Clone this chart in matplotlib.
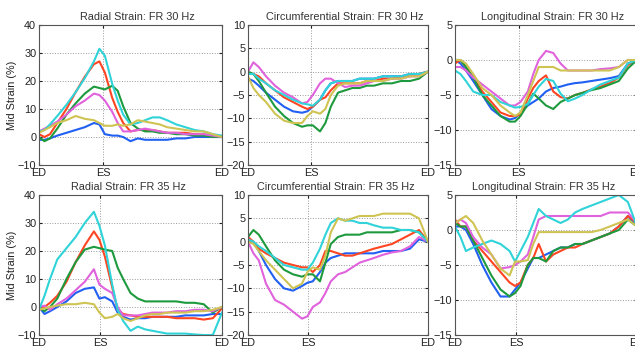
import numpy as np
import matplotlib
matplotlib.use("Agg")
import matplotlib.pyplot as plt

# sample positions along the cycle (0 = ED, 1 = next ED)
X = [0, .03, .06, .1, .15, .2, .25, .3, .33, .36, .4, .43, .46,
     .5, .54, .58, .62, .66, .7, .75, .8, .85, .9, .95, 1.0]
ES_30 = 0.35
ES_35 = 0.335

# ---- Radial strain, FR 30 Hz
rad30_blue = [-1, -1, -0.5, 0.5, 1.5, 2.5, 3.5, 5, 4.5, 1, 0.5, 0.5, 0,
              -1.5, -0.5, -1, -1, -1, -1, -0.5, -0.5, 0, 0, 0, 0]
rad30_red = [1, 0, 1, 5, 10, 16, 21.5, 26, 27, 23, 14, 9, 5,
             2, 2.5, 2.5, 2.5, 2, 1.5, 1.5, 1.5, 1, 1, 0.5, 0]
rad30_green = [0, -1.5, -0.5, 3, 8, 12, 15.5, 18, 17.5, 17, 18.3, 16.5, 11,
               5, 3, 2, 2, 1.5, 1.5, 1, 1, 0.5, 0.5, 0, 0]
rad30_magenta = [2, 3, 4, 5.5, 8, 11, 13, 15.5, 15, 13, 9, 5, 2,
                 2, 2.5, 3, 2.5, 2, 1.5, 1.5, 1, 1, 1, 0.5, 0]
rad30_cyan = [2, 2.5, 4.5, 7.5, 11.5, 16, 21, 27, 31.5, 29, 19, 13, 8,
              4.5, 5, 6, 7, 7, 6, 4.5, 3.5, 2.5, 2, 1, 0.5]
rad30_yellow = [1.5, 2.5, 3.5, 5, 6, 7.5, 6.5, 6, 5, 4, 4, 4.5, 4,
                4.5, 6, 5.5, 5, 4.5, 3.5, 3, 2.5, 2, 2, 1, 0]

# ---- Circumferential strain, FR 30 Hz
circ30_blue = [-1.5, -2, -3, -4.5, -6, -7.5, -8.5, -8.8, -8.5, -7.5, -6, -4, -2.5,
               -2, -2, -2, -1.5, -1.5, -1.5, -1, -1, -1, -0.5, -0.5, 0]
circ30_red = [-0.5, -0.5, -1, -2.5, -4, -5.5, -6.5, -7.5, -8, -7.5, -6, -5.5, -4,
              -2.5, -2.5, -2.5, -2.5, -2, -2, -1.5, -1.5, -1, -1, -0.5, 0]
circ30_green = [0, -0.5, -2, -4.5, -7.5, -9.5, -11, -11.8, -11.5, -11.5, -12.8, -11, -7.5,
                -4.5, -4, -3.5, -3.5, -3, -3, -2.5, -2.5, -2, -2, -1.5, 0]
circ30_magenta = [0, 2, 1, -1, -3, -4.5, -5.5, -6.8, -6.5, -5, -2.5, -1.5, -1.5,
                  -2.5, -3.3, -3, -3, -2.5, -2, -2, -1.5, -1.5, -1, -1, 0]
circ30_cyan = [-0.5, -0.5, -1.5, -2.5, -4, -5, -6, -6.8, -7, -7.3, -6, -4, -2.5,
               -2, -2, -2, -1.5, -1.5, -1.5, -1, -1, -1, -0.5, -0.5, 0]
circ30_yellow = [-1, -3.5, -5, -6.5, -9, -10.5, -11, -11, -9.5, -8.5, -9, -8, -5,
                 -3, -2.5, -2.5, -2.5, -2, -2, -2, -1.5, -1.5, -1, -1, 0]

# ---- Longitudinal strain, FR 30 Hz
long30_blue = [0, -0.5, -1.5, -3, -5, -7, -8, -8.5, -8.3, -7.5, -6.5, -6, -5.5,
               -4.5, -4, -3.8, -3.5, -3.3, -3.2, -3, -2.8, -2.6, -2.3, -0.5, 0]
long30_red = [-0.5, 0, -1, -2.5, -4.5, -6, -7.5, -8, -8, -7.8, -5.5, -4, -3,
              -2.2, -4.5, -5.3, -5.5, -5, -4.7, -4.2, -3.8, -3.3, -2.5, -0.7, 0]
long30_green = [0, 0, -1, -2.5, -5, -6.5, -8, -8.8, -8.8, -8, -6.3, -4.8, -5.5,
                -6.5, -7, -6, -5.5, -5, -4.7, -4.3, -4, -3.5, -3, -1.2, 0]
long30_magenta = [-1, -1, -1.5, -2.5, -3.5, -4.5, -5.5, -6.5, -6.5, -6, -4.5, -2, 0,
                  1.3, 1, -0.5, -1.5, -1.5, -1.5, -1.5, -1.3, -1.2, -1, 0, 0]
long30_cyan = [-1.5, -2, -3, -4.5, -5, -5, -6, -6.5, -6.8, -6.7, -6.3, -5, -3.8,
               -2.7, -3, -4.8, -5.9, -5.5, -5, -4.2, -3.5, -3, -2.5, -0.5, 0]
long30_yellow = [0, 0, -0.5, -2, -4, -5, -6.5, -7.5, -8, -7.5, -5, -3, -1,
                 -1, -1, -1.5, -1.5, -1.5, -1.5, -1.5, -1.5, -1.5, -1, 0, 0]

# ---- Radial strain, FR 35 Hz
rad35_blue = [0, -2.5, -1.5, 0, 2, 5, 6.5, 7, 3, 3.5, 2, -2, -3.5,
              -4.5, -4, -4, -3.5, -3.5, -3.5, -3.5, -3, -3, -3, -2.5, -2.5]
rad35_red = [-1, 0, 1.5, 4, 9, 16, 22, 27, 24, 18, 7, -1, -2.5,
             -3, -3.5, -3.5, -3.5, -3.5, -3.5, -4, -4, -4, -4.5, -4, -0.5]
rad35_green = [0, -1.5, 0, 3, 10, 16, 20.5, 21.5, 21, 20.5, 20, 14, 10,
               5, 3, 2, 2, 2, 2, 2, 1.5, 1.5, 1, -2, 0]
rad35_magenta = [0, 0.5, -1, 1, 3, 6, 9, 13.5, 8, 6.5, 5, 0, -3,
                 -3, -3, -2.5, -2, -2, -2, -1.5, -1.5, -1, -1, -1.5, 0]
rad35_cyan = [-1, 4, 10, 17, 21, 25, 30, 34, 29, 22, 8, -1, -5,
              -8.5, -7, -8, -8.5, -9, -9.5, -9.5, -9.5, -9.8, -10, -10, -2]
rad35_yellow = [-1, -0.5, 0, 0.5, 1, 1, 1.5, 1, -2, -4, -3.5, -2.5, -4,
                -5, -4, -3, -2.5, -2.5, -2, -2, -2, -1.5, -1.5, -1, 0]

# ---- Circumferential strain, FR 35 Hz
circ35_blue = [0, 0, -2, -5, -8, -10, -10.5, -9.5, -8.8, -8.5, -6.5, -4.5, -3.5,
               -3, -2.5, -2.5, -2.5, -2.5, -2.5, -2, -2, -2, -1.5, 0.5, 0]
circ35_red = [1, 0, -1.5, -2.5, -3.5, -4.5, -5, -5.5, -5.5, -6.5, -5, -2, -2,
              -2.5, -3, -3, -2.5, -2, -1.5, -1, -0.5, 0.5, 1.5, 2.5, 0]
circ35_green = [1, 2.5, 1.5, -1, -4, -6, -7, -7.5, -7, -7, -8.5, -4.5, -0.5,
                1, 1.5, 1.5, 1.5, 2, 2, 2, 2, 2.5, 2.5, 2, 0]
circ35_magenta = [0, -2.5, -4, -9, -12.5, -13.5, -15, -16.5, -16, -14, -13, -11, -8.5,
                  -7, -6.5, -5.5, -4.5, -4, -3.5, -2.8, -2.3, -2, -1, 1, 0]
circ35_cyan = [0.5, 0, -1, -2, -3.5, -5, -5.5, -6, -6, -4.5, -1.5, 1.5, 4,
               5, 4.5, 4.5, 4, 4, 3.5, 3, 3, 2.5, 2.5, 2, 0]
circ35_yellow = [0, -0.5, -2, -4, -6, -8, -10, -9, -6.5, -5.5, -6, -3, 2,
                 5, 4.5, 5, 5.5, 5.5, 5.5, 6, 6, 6, 6, 5, 0]

# ---- Longitudinal strain, FR 35 Hz
long35_blue = [0.5, 0.5, 0, -2, -5, -7.5, -9.5, -9.5, -8.5, -7.5, -5.5, -4, -4,
               -3.5, -3, -2.5, -2.5, -2, -2, -1.5, -1, -0.5, 0.5, 2, 0.5]
long35_red = [1.5, 0.5, 0.5, -1.5, -3, -4.5, -6, -7.5, -8, -7.5, -5, -4, -2,
              -4.5, -3.5, -3, -2.5, -2.5, -2, -1.5, -1, -0.5, 0.5, 2, 1]
long35_green = [1, 0.5, 0.5, -1.5, -4, -6.5, -8.5, -9.5, -9, -8, -5, -4, -4,
                -4.5, -3, -2.5, -2.5, -2, -2, -1.5, -1, -0.5, 0, 1.5, 0.5]
long35_magenta = [1, 1.5, 1, -1, -2.5, -3.5, -5.5, -5.3, -5, -4.5, -3.5, -1, 1.5,
                  2, 2, 2, 2, 2, 2, 2, 2, 2.5, 2.5, 2.5, 1]
long35_cyan = [0.5, -1, -3, -2.5, -2, -1.5, -2, -3, -4.5, -3, -1, 1, 3,
               2, 1.5, 1, 1.5, 2.5, 3, 3.5, 4, 4.5, 5, 4, 0.5]
long35_yellow = [1, 1.5, 2, 1, -1.5, -3.5, -5.5, -6.5, -4.5, -4.5, -4.3, -2, -0.3,
                 -0.3, -0.3, -0.3, -0.3, -0.3, -0.3, -0.3, 0, 0.5, 1, 1.5, 0.5]

titles = ["Radial Strain: FR 30 Hz", "Circumferential Strain: FR 30 Hz",
          "Longitudinal Strain: FR 30 Hz", "Radial Strain: FR 35 Hz",
          "Circumferential Strain: FR 35 Hz", "Longitudinal Strain: FR 35 Hz"]
ylims = [(-10, 40), (-20, 10), (-15, 5)]
ysteps = [10, 5, 5]

colors = ["#2160f2", "#ff4522", "#1e9a3e", "#e062dc", "#2fd3d8", "#cfc453"]

panels = [
    [rad30_blue, rad30_red, rad30_green, rad30_magenta, rad30_cyan, rad30_yellow],
    [circ30_blue, circ30_red, circ30_green, circ30_magenta, circ30_cyan, circ30_yellow],
    [long30_blue, long30_red, long30_green, long30_magenta, long30_cyan, long30_yellow],
    [rad35_blue, rad35_red, rad35_green, rad35_magenta, rad35_cyan, rad35_yellow],
    [circ35_blue, circ35_red, circ35_green, circ35_magenta, circ35_cyan, circ35_yellow],
    [long35_blue, long35_red, long35_green, long35_magenta, long35_cyan, long35_yellow],
]

plt.rcParams['font.family'] = ['Liberation Sans', 'DejaVu Sans']
plt.rcParams['font.size'] = 7.8

W, H = 635, 349
fig = plt.figure(figsize=(W / 100, H / 100), dpi=100)

col_left = [39, 248, 455]
col_width = [183, 180, 182]
row_top = [25, 195]
row_h = 140

for i in range(6):
    r, c = divmod(i, 3)
    ax = fig.add_axes([col_left[c] / W, 1 - (row_top[r] + row_h) / H,
                       col_width[c] / W, row_h / H])
    for y, col in zip(panels[i], colors):
        ax.plot(X, y, color=col, lw=1.5, solid_joinstyle='round')

    es = ES_30 if r == 0 else ES_35
    lo, hi = ylims[c]
    ax.set_xlim(0, 1)
    ax.set_ylim(lo, hi)
    ax.set_xticks([0, es, 1])
    ax.set_xticklabels(["ED", "ES", "ED"])
    ax.set_yticks(np.arange(lo, hi + 1, ysteps[c]))
    ax.grid(True, linestyle=':', color='#9a9a9a', linewidth=0.7)
    ax.tick_params(direction='in', length=2.5, pad=2, colors='#222222',
                   top=True, right=True)
    for s in ax.spines.values():
        s.set_color('#555555')
        s.set_linewidth(0.8)
    tx = 0.5 + 7 / col_width[c] if r == 0 else 0.5 - 2 / col_width[c]
    ax.set_title(titles[i], x=tx, pad=3.5, fontsize=7.8, color='#333333')
    if c == 0:
        ax.set_ylabel("Mid Strain (%)", color='#222222')
        ax.yaxis.set_label_coords(-0.118, 0.5)

fig.savefig("out.png", dpi=100)
